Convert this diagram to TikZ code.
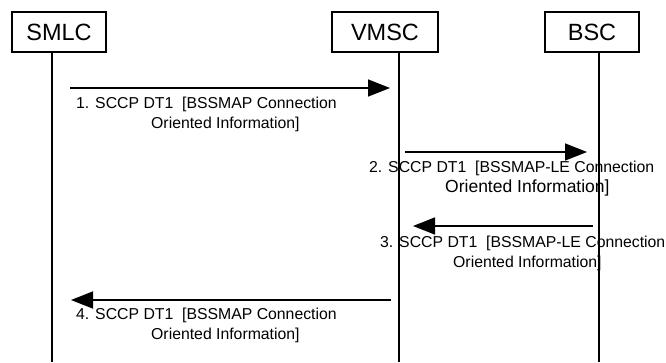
\documentclass[tikz,border=0pt]{standalone}
\usepackage{fontspec}
\setmainfont{Liberation Sans}
\usetikzlibrary{arrows.meta}
\tikzset{
	entity/.style={draw, line width=1.2pt, minimum width=94pt, minimum height=40pt, font=\fontsize{23.5}{25}\selectfont},
	lifeline/.style={line width=1.5pt},
	msg/.style={line width=1.6pt, -{Triangle[length=22pt,width=17pt]}},
	msglabel/.style={anchor=north west, align=left, inner sep=0pt, font=\fontsize{15.8}{20}\selectfont}
}
\begin{document}
\begin{tikzpicture}[x=1pt, y=-1pt]
	\useasboundingbox (0,0) rectangle (666,362);
	
	\node[entity] (smlc) at (59,32) {SMLC};
	\node[entity, minimum width=106pt] (vmsc) at (385,32) {VMSC};
	\node[entity] (bsc) at (592,32) {BSC};
	
	\coordinate (smlcend) at (52,362);
	\coordinate (vmscend) at (399,362);
	\coordinate (bscend) at (599,362);
	\draw[lifeline] (smlc.south -| smlcend) -- (smlcend);
	\draw[lifeline] (vmsc.south -| vmscend) -- (vmscend);
	\draw[lifeline] (bsc.south -| bscend) -- (bscend);
	
	% messages
	\coordinate (m1a) at (70,88);  \coordinate (m1b) at (390,88);
	\coordinate (m2a) at (405,152); \coordinate (m2b) at (587,152);
	\coordinate (m3a) at (593,226); \coordinate (m3b) at (413,226);
	\coordinate (m4a) at (391,300); \coordinate (m4b) at (71,300);
	
	\draw[msg] (m1a) -- (m1b);
	\draw[msg] (m2a) -- (m2b);
	\draw[msg] (m3a) -- (m3b);
	\draw[msg] (m4a) -- (m4b);
	
	\node[msglabel] (l1) at (76,97) {1. SCCP DT1\ \ [BSSMAP Connection\\\hspace*{75pt}Oriented Information]};
	\node[msglabel] (l2) at (369,161) {2. SCCP DT1\ \ [BSSMAP-LE Connection\\\hspace*{76pt}{\fontsize{17.5}{20}\selectfont Oriented Information]}};
	\node[msglabel] (l3) at (380,236) {3. SCCP DT1\ \ [BSSMAP-LE Connection\\\hspace*{73pt}Oriented Information]};
	\node[msglabel] (l4) at (76,308) {4. SCCP DT1\ \ [BSSMAP Connection\\\hspace*{75pt}Oriented Information]};
\end{tikzpicture}
\end{document}
